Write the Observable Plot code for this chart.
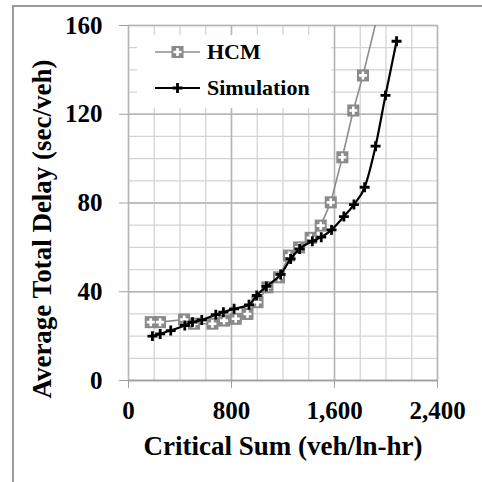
<!DOCTYPE html>
<html>
<head>
<meta charset="utf-8">
<script src="https://cdn.jsdelivr.net/npm/d3@7"></script>
<script src="https://cdn.jsdelivr.net/npm/@observablehq/plot@0.6"></script>
<style>
  html, body { margin: 0; padding: 0; background: #fff; }
  #wrap { position: relative; width: 482px; height: 482px; overflow: hidden; }
  #frame { position: absolute; left: 12px; top: 5px; width: 600px; height: 600px;
           border-left: 2px solid #9a9a9a; border-top: 2px solid #9a9a9a; pointer-events: none; }
  #legend { position: absolute; left: 137px; top: 35px; width: 194px; height: 73px; background: #fff;
            font-family: "Liberation Serif", serif; font-weight: bold; font-size: 22px; }
  .row { position: absolute; left: 0; height: 30px; display: flex; align-items: center; }
  .row svg { display: block; }
  .row span { margin-left: 7px; }
</style>
</head>
<body>
<div id="wrap"><div id="chart"></div><div id="frame"></div>
  <div id="legend">
    <div class="row" style="top:2px; left:18px">
      <svg width="45" height="30"><line x1="0" x2="45" y1="15" y2="15" stroke="#8c8c8c" stroke-width="1.6"/>
        <rect x="16.5" y="9" width="12" height="12" fill="#8a8a8a"/>
        <path d="M22.5,11V19M18.5,15H26.5" stroke="#fff" stroke-width="2.6"/></svg>
      <span>HCM</span>
    </div>
    <div class="row" style="top:38px; left:18px">
      <svg width="45" height="30"><line x1="0" x2="45" y1="15" y2="15" stroke="#000" stroke-width="2.2"/>
        <path d="M22.5,10V20M17.5,15H27.5" stroke="#000" stroke-width="2.8"/></svg>
      <span>Simulation</span>
    </div>
  </div>
</div>
<script>
// Data
const hcmX = [173, 245, 432, 509, 652, 742, 833, 924, 1002, 1079, 1169, 1247, 1325, 1415, 1493, 1571, 1661, 1746, 1821, 2000];
const hcmY = [26.3, 26.3, 27.5, 25.6, 25.6, 27.0, 27.8, 30.0, 35.3, 42.0, 46.5, 56.3, 60.0, 64.3, 69.8, 80.3, 100.6, 121.7, 137.5, 180];
const simX = [186, 246, 328, 437, 497, 569, 678, 737, 820, 936, 996, 1071, 1182, 1259, 1329, 1428, 1497, 1577, 1673, 1751, 1834, 1919, 1996, 2082];
const simY = [20.0, 21.0, 22.5, 24.8, 26.3, 27.3, 29.7, 30.8, 32.3, 34.1, 38.3, 42.4, 47.8, 54.8, 59.3, 62.8, 64.6, 67.9, 73.9, 79.3, 87.1, 105.6, 128.5, 152.9];

const xTicks = [0, 800, 1600, 2400];
const yTicks = [0, 40, 80, 120, 160];
const xMinor = d3.range(0, 2401, 200);
const yMinor = d3.range(0, 161, 10);
const xTitle = "Critical Sum (veh/ln-hr)";
const yTitle = "Average Total Delay (sec/veh)";

const hcm = hcmX.map((x, i) => ({x, y: hcmY[i]}));
const sim = simX.map((x, i) => ({x, y: simY[i]}));
const hcmVisible = hcm.filter(d => d.y <= 160);

const chart = Plot.plot({
  width: 482,
  height: 482,
  marginLeft: 128,
  marginRight: 45,
  marginTop: 25,
  marginBottom: 102,
  style: {fontFamily: "Liberation Serif, serif", fontWeight: "bold", background: "transparent"},
  x: {domain: [0, 2400]},
  y: {domain: [0, 160]},
  marks: [
    Plot.gridX(xMinor, {stroke: "#d4d4d4", strokeOpacity: 1, strokeWidth: 1.3}),
    Plot.gridY(yMinor, {stroke: "#d4d4d4", strokeOpacity: 1, strokeWidth: 1.3}),
    Plot.gridX(xTicks, {stroke: "#b4b4b4", strokeOpacity: 1, strokeWidth: 1.5}),
    Plot.gridY(yTicks, {stroke: "#b4b4b4", strokeOpacity: 1, strokeWidth: 1.5}),
    Plot.axisX({ticks: xTicks, tickFormat: d3.format(","), tickSize: 8, tickPadding: 13, fontSize: 25, stroke: "#a0a0a0", fill: "#000", label: null}),
    Plot.axisY({ticks: yTicks, tickSize: 9, tickPadding: 17, fontSize: 25, stroke: "#a0a0a0", fill: "#000", label: null}),
    Plot.ruleY([0], {stroke: "#a0a0a0", strokeWidth: 1.5}),
    Plot.line(hcm, {x: "x", y: "y", stroke: "#8c8c8c", strokeWidth: 1.6, clip: true}),
    Plot.dot(hcmVisible, {x: "x", y: "y", symbol: "square", r: 6.8, fill: "#8a8a8a", stroke: "none"}),
    Plot.dot(hcmVisible, {x: "x", y: "y", symbol: "plus", r: 2.7, stroke: "#fff", strokeWidth: 2.6}),
    Plot.line(sim, {x: "x", y: "y", stroke: "#000", strokeWidth: 2.2, curve: "monotone-x"}),
    Plot.dot(sim, {x: "x", y: "y", symbol: "plus", r: 3.3, stroke: "#000", strokeWidth: 2.8}),
    Plot.text([xTitle], {frameAnchor: "bottom", dy: 74, fontSize: 27, fill: "#000", text: d => d}),
    Plot.text([yTitle], {frameAnchor: "left", textAnchor: "middle", rotate: -90, dx: -86, dy: 26, fontSize: 27, fill: "#000", text: d => d})
  ]
});
document.getElementById("chart").appendChild(chart);
</script>
</body>
</html>
